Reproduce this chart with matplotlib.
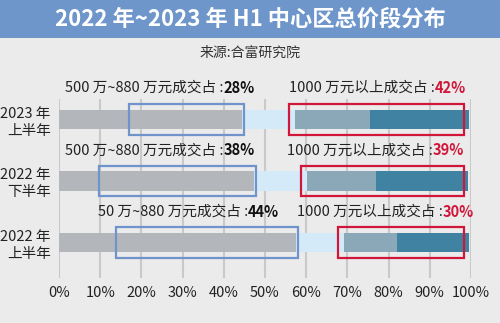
import numpy as np
import matplotlib.pyplot as plt
from matplotlib.patches import Rectangle

plt.rcParams['font.family'] = ['Noto Sans CJK SC', 'DejaVu Sans']

# rows from bottom to top
periods = ['2022 年\n上半年', '2022 年\n下半年', '2023 年\n上半年']
# bar segments in % (500-880万 and below / 880-1000万 / 1000万以上 two parts)
seg_low = [57.5, 47.3, 44.5]
seg_mid = [11.7, 12.8, 12.8]
seg_hi1 = [12.8, 16.9, 18.2]
seg_hi2 = [17.5, 22.3, 24.0]
share_low = [44, 38, 28]
share_high = [30, 39, 42]
low_names = ['50 万~880 万元成交占 :', '500 万~880 万元成交占 :', '500 万~880 万元成交占 :']
high_name = '1000 万元以上成交占 :'
xticks = [0, 10, 20, 30, 40, 50, 60, 70, 80, 90, 100]

c_gray = '#b3b7bb'
c_light = '#d5eaf8'
c_mid = '#8ba8b9'
c_dark = '#3f82a2'
c_blue = '#6f93cb'
c_red = '#d0163a'

fig = plt.figure(figsize=(5, 3.23), dpi=100, facecolor='#ebebeb')

# header band
fig.patches.append(Rectangle((0, 1 - 37.5 / 323), 1, 37.5 / 323, transform=fig.transFigure,
                             facecolor='#6e96cb', edgecolor='none', zorder=0))
fig.text(0.5, 1 - 19 / 323, '2022 年~2023 年 H1 中心区总价段分布', color='white',
         fontsize=16, fontweight='bold', ha='center', va='center')
fig.text(0.5, 1 - 53 / 323, '来源:合富研究院', color='#333333', fontsize=10,
         ha='center', va='center')

ax = fig.add_axes([59 / 500, 1 - 278 / 323, 412 / 500, 179 / 323])
ax.set_facecolor('#ebebeb')

y = np.arange(len(periods))
h = 0.31
left = np.zeros(len(periods))
for vals, col in [(seg_low, c_gray), (seg_mid, c_light), (seg_hi1, c_mid), (seg_hi2, c_dark)]:
    ax.barh(y, vals, left=left, height=h, color=col, zorder=2)
    left += np.array(vals)

# highlight boxes
bh = 0.5
for i in range(len(periods)):
    end_low = seg_low[i] + 0.4
    ax.add_patch(Rectangle((end_low - share_low[i], y[i] - bh / 2), share_low[i], bh,
                           fill=False, edgecolor=c_blue, lw=1.6, zorder=3))
    start_hi = seg_low[i] + seg_mid[i] - 1.4
    ax.add_patch(Rectangle((start_hi, y[i] - bh / 2), 98.2 - start_hi, bh,
                           fill=False, edgecolor=c_red, lw=1.6, zorder=3))

# labels above each bar
label_y = [0.5, 1.5, 2.51]
low_join = [45.9, 40.0, 40.0]
high_join = [93.2, 90.8, 91.3]
fs = 10.5
for i in range(len(periods)):
    ax.text(low_join[i], label_y[i], low_names[i], ha='right', va='center',
            fontsize=fs, color='#222222', clip_on=False)
    ax.text(low_join[i], label_y[i], f'{share_low[i]}%', ha='left', va='center',
            fontsize=fs, fontweight='bold', color='#111111', clip_on=False)
    ax.text(high_join[i], label_y[i], high_name, ha='right', va='center',
            fontsize=fs, color='#222222', clip_on=False)
    ax.text(high_join[i], label_y[i], f'{share_high[i]}%', ha='left', va='center',
            fontsize=fs, fontweight='bold', color=c_red, clip_on=False)

ax.set_xlim(0, 100)
ax.set_ylim(-0.577, 2.333)
ax.set_xticks(xticks)
ax.set_xticklabels([f'{t}%' for t in xticks], fontsize=10.5, color='#222222')
ax.set_yticks(y)
ax.set_yticklabels(periods, fontsize=10.5, color='#222222', linespacing=1.25)
ax.tick_params(length=0, pad=6)
ax.tick_params(axis='x', pad=6)
ax.grid(axis='x', color='#c9c9c9', lw=1.5, zorder=1)
for s in ax.spines.values():
    s.set_visible(False)

fig.savefig('out.png', dpi=100, facecolor=fig.get_facecolor())
